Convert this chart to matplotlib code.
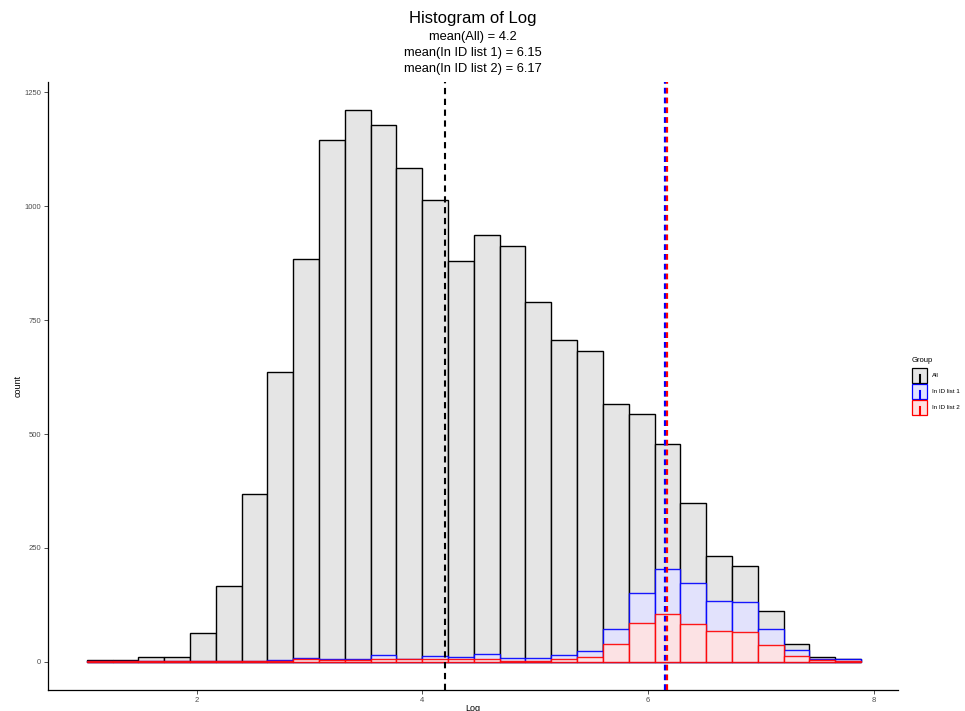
import numpy as np
import matplotlib
matplotlib.use("Agg")
import matplotlib.pyplot as plt
from matplotlib.patches import Rectangle
from matplotlib.lines import Line2D

plt.rcParams['font.family'] = ['Liberation Sans', 'DejaVu Sans']

# histogram binning (30 bins)
bin_start = 1.025
bin_end = 7.889
n_bins = 30

# counts per bin
all_counts = [4, 4, 11, 11, 63, 166, 368, 637, 885, 1145, 1211, 1178, 1085, 1015, 879,
              938, 913, 789, 706, 682, 567, 545, 478, 348, 232, 210, 112, 39, 10, 6]
list1_counts = [1, 1, 1, 1, 1, 1, 1, 4, 9, 7, 6, 15, 6, 13, 11,
                16, 8, 8, 14, 23, 73, 151, 203, 173, 133, 131, 72, 25, 7, 5]
list2_counts = [1, 1, 1, 1, 1, 1, 1, 2, 6, 4, 4, 7, 5, 7, 7,
                7, 2, 2, 5, 11, 38, 86, 104, 84, 67, 65, 36, 12, 3, 2]

groups = ['All', 'In ID list 1', 'In ID list 2']
means = [4.2, 6.15, 6.17]
mean_labels = ['4.2', '6.15', '6.17']

edges = np.linspace(bin_start, bin_end, n_bins + 1)
width = edges[1] - edges[0]

fig = plt.figure(figsize=(9.65, 7.11), dpi=100)
ax = fig.add_axes([48/965, 21/711, 850/965, 608/711])

fills = ['#e5e5e5', '#e2e2ff', '#ffe2e2']
lines = ['black', 'blue', 'red']
for counts, fc, ec in zip([all_counts, list1_counts, list2_counts], fills, lines):
    ax.bar(edges[:-1], counts, width=width, align='edge', color=fc,
           edgecolor=ec, linewidth=1.0, alpha=0.9 if ec != 'black' else 1.0)

ax.axvline(means[0], color='black', lw=1.5, dashes=(3, 2.2), zorder=5)
ax.axvline(means[1], color='blue', lw=1.6, dashes=(2.6, 1.8), zorder=5)
ax.axvline(means[2], color='red', lw=1.6, dashes=(2.6, 1.8), zorder=6)

ax.set_xlim(0.682, 8.217)
ax.set_ylim(-62, 1273)
ax.set_xticks([2, 4, 6, 8])
ax.set_yticks([0, 250, 500, 750, 1000, 1250])
ax.tick_params(labelsize=5.5, labelcolor='#4d4d4d', color='#333333',
               length=3, width=0.6, pad=2)
for s in ['top', 'right']:
    ax.spines[s].set_visible(False)
for s in ['left', 'bottom']:
    ax.spines[s].set_linewidth(0.9)
ax.set_xlabel('Log', fontsize=6.5, labelpad=0)
ax.set_ylabel('count', fontsize=6.5, labelpad=1)

# title and subtitle
fig.text(473/965, 1 - 18/711, 'Histogram of Log', ha='center', va='center', fontsize=12)
sub = '\n'.join(f'mean({g}) = {m}' for g, m in zip(groups, mean_labels))
fig.text(473/965, 1 - 53/711, sub, ha='center', va='center', fontsize=9.3,
         linespacing=1.48)

# legend
fig.text(912/965, 1 - 361/711, 'Group', ha='left', va='center', fontsize=5.5)
for i, (g, fc, ec) in enumerate(zip(groups, fills, lines)):
    y0 = 368 + i * 16
    fig.add_artist(Rectangle((912/965, 1 - (y0 + 15)/711), 15/965, 15/711,
                             transform=fig.transFigure, facecolor=fc,
                             edgecolor=ec, linewidth=0.9))
    fig.add_artist(Line2D([919.5/965, 919.5/965], [1 - (y0 + 15)/711, 1 - (y0 + 7)/711],
                          transform=fig.transFigure, color=ec, lw=1.5))
    fig.text(932/965, 1 - (y0 + 7.5)/711, g, ha='left', va='center', fontsize=4.5)

fig.savefig('out.png', dpi=100)
